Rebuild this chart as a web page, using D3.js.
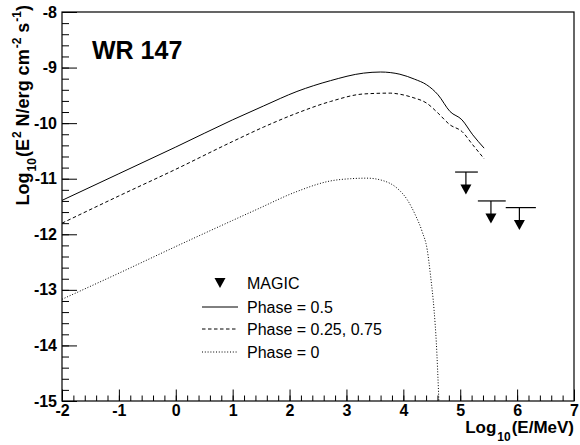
<!DOCTYPE html>
<html>
<head>
<meta charset="utf-8">
<script src="https://cdn.jsdelivr.net/npm/d3@7"></script>
<style>
  html, body { margin: 0; padding: 0; background: #fff; }
  svg { display: block; font-family: "Liberation Sans", Arial, Helvetica, sans-serif; }
</style>
</head>
<body>
<div id="chart"></div>
<script>
// ---- Data ----
const phase05X = [-2, -1, 0, 1, 1.545, 2.13, 2.72, 3.3, 3.6, 3.77, 3.94, 4.2, 4.41, 4.61, 4.82, 5.03, 5.22, 5.42];
const phase05Y = [-11.39, -10.91, -10.43, -9.94, -9.69, -9.43, -9.235, -9.10, -9.08, -9.09, -9.12, -9.21, -9.31, -9.49, -9.79, -9.94, -10.21, -10.45];

const phase025X = [-2, -1, 0, 1, 1.545, 2.13, 2.72, 3.3, 3.77, 3.94, 4.17, 4.41, 4.61, 4.82, 5.03, 5.22, 5.42];
const phase025Y = [-11.80, -11.31, -10.83, -10.33, -10.07, -9.82, -9.61, -9.475, -9.46, -9.48, -9.54, -9.64, -9.82, -10.03, -10.15, -10.39, -10.64];

const phase0X = [-2, -1, 0, 1, 1.43, 2.13, 2.72, 3.07, 3.36, 3.66, 3.89, 4.07, 4.21, 4.33, 4.42, 4.48, 4.54, 4.58, 4.625];
const phase0Y = [-13.17, -12.70, -12.22, -11.75, -11.55, -11.23, -11.04, -11.00, -10.99, -11.04, -11.17, -11.38, -11.65, -11.95, -12.28, -12.76, -13.36, -13.95, -15.0];

const magicX  = [5.10, 5.54, 6.04];
const magicLo = [4.91, 5.31, 5.80];
const magicHi = [5.31, 5.80, 6.33];
const magicY  = [-10.88, -11.40, -11.52];

const xTicks = [-2, -1, 0, 1, 2, 3, 4, 5, 6, 7];
const yTicks = [-15, -14, -13, -12, -11, -10, -9, -8];

const legendLabels = ["MAGIC", "Phase = 0.5", "Phase = 0.25, 0.75", "Phase = 0"];

// ---- Layout ----
const W = 580, H = 445;
const L = 62, R = 574, T = 12, B = 401;

const svg = d3.select("#chart").append("svg").attr("width", W).attr("height", H);

const x = d3.scaleLinear().domain([-2, 7]).range([L, R]);
const y = d3.scaleLinear().domain([-15, -8]).range([B, T]);

const font = '"Liberation Sans", Arial, Helvetica, sans-serif';
const fmt = d => String(d);

// Minor ticks
const xMinor = d3.range(-2, 7.0001, 0.2).map(v => +v.toFixed(2));
const yMinor = d3.range(-15, -7.9999, 0.2).map(v => +v.toFixed(2));

svg.append("g").attr("transform", `translate(0,${B})`)
  .call(d3.axisBottom(x).tickValues(xMinor).tickSize(-5.5).tickSizeOuter(0).tickFormat(""))
  .call(g => g.select(".domain").remove());
svg.append("g").attr("transform", `translate(${L},0)`)
  .call(d3.axisLeft(y).tickValues(yMinor).tickSize(-7).tickSizeOuter(0).tickFormat(""))
  .call(g => g.select(".domain").remove());

// Major ticks
const xAxis = svg.append("g").attr("transform", `translate(0,${B})`)
  .call(d3.axisBottom(x).tickValues(xTicks).tickSize(-11.5).tickSizeOuter(0).tickPadding(4).tickFormat(fmt));
xAxis.select(".domain").remove();
xAxis.selectAll("text").attr("font-size", 16).attr("font-weight", "bold").attr("font-family", font).attr("fill", "#000");

const yAxis = svg.append("g").attr("transform", `translate(${L},0)`)
  .call(d3.axisLeft(y).tickValues(yTicks).tickSize(-15).tickSizeOuter(0).tickPadding(5).tickFormat(fmt));
yAxis.select(".domain").remove();
yAxis.selectAll("text").attr("font-size", 16).attr("font-weight", "bold").attr("font-family", font).attr("fill", "#000");

svg.selectAll(".tick line").attr("stroke", "#000").attr("stroke-width", 1);

// Frame
svg.append("rect").attr("x", L).attr("y", T).attr("width", R - L).attr("height", B - T)
  .attr("fill", "none").attr("stroke", "#000").attr("stroke-width", 1.2);

// Curves
svg.append("clipPath").attr("id", "clipFrame")
  .append("rect").attr("x", L).attr("y", T).attr("width", R - L).attr("height", B - T);

const line = d3.line().x(d => x(d[0])).y(d => y(d[1])).curve(d3.curveMonotoneX);
const curves = [
  { xs: phase05X, ys: phase05Y, dash: null },
  { xs: phase025X, ys: phase025Y, dash: "3.5,2.5" },
  { xs: phase0X, ys: phase0Y, dash: "1,1.8" }
];
curves.forEach(c => {
  svg.append("path")
    .datum(c.xs.map((v, i) => [v, c.ys[i]]))
    .attr("d", line)
    .attr("fill", "none")
    .attr("stroke", "#000")
    .attr("stroke-width", 1)
    .attr("stroke-dasharray", c.dash)
    .attr("clip-path", "url(#clipFrame)");
});

// MAGIC upper limits
const tri = (cx, ty, w, h) => `M${cx - w / 2},${ty}L${cx + w / 2},${ty}L${cx},${ty + h}Z`;
magicX.forEach((mx, i) => {
  const py = y(magicY[i]);
  const px = x(mx);
  svg.append("line").attr("x1", x(magicLo[i])).attr("x2", x(magicHi[i]))
    .attr("y1", py).attr("y2", py).attr("stroke", "#000").attr("stroke-width", 1.2);
  svg.append("line").attr("x1", px).attr("x2", px).attr("y1", py).attr("y2", py + 13)
    .attr("stroke", "#000").attr("stroke-width", 1.2);
  svg.append("path").attr("d", tri(px, py + 12.5, 11, 10)).attr("fill", "#000");
});

// Legend
const lg = svg.append("g").attr("font-family", font).attr("font-size", 16).attr("fill", "#000");
const legendRows = [283, 307, 329, 352];
const legendX0 = 202, legendX1 = 238, legendText = 247;
lg.append("path").attr("d", tri(220, legendRows[0] - 5, 11, 10)).attr("fill", "#000");
[null, "3.5,2.5", "1,1.8"].forEach((dash, i) => {
  lg.append("line").attr("x1", legendX0).attr("x2", legendX1)
    .attr("y1", legendRows[i + 1]).attr("y2", legendRows[i + 1])
    .attr("stroke", "#000").attr("stroke-width", 1).attr("stroke-dasharray", dash);
});
legendLabels.forEach((t, i) => {
  lg.append("text").attr("x", legendText).attr("y", legendRows[i]).attr("dy", "0.36em").text(t);
});

// Title
svg.append("text").attr("x", 92).attr("y", 59).attr("font-family", font)
  .attr("font-size", 25).attr("font-weight", "bold").text("WR 147");

// X axis title
const xt = svg.append("text").attr("x", R).attr("y", 433).attr("text-anchor", "end")
  .attr("font-family", font).attr("font-size", 17).attr("font-weight", "bold");
xt.append("tspan").text("Log");
xt.append("tspan").attr("font-size", 12).attr("dy", 8).attr("dx", 1).text("10");
xt.append("tspan").attr("dy", -8).attr("dx", 1).text("(E/MeV)");

// Y axis title
const yt = svg.append("text").attr("transform", `translate(29,5) rotate(-90)`)
  .attr("text-anchor", "end").attr("font-family", font).attr("font-size", 18).attr("font-weight", "bold");
yt.append("tspan").text("Log");
yt.append("tspan").attr("font-size", 12).attr("dy", 7).attr("dx", 1).text("10");
yt.append("tspan").attr("dy", -7).attr("dx", 1).text("(E");
yt.append("tspan").attr("font-size", 12).attr("dy", -8).attr("dx", 1).text("2");
yt.append("tspan").attr("dy", 8).text(" N/erg cm");
yt.append("tspan").attr("font-size", 12).attr("dy", -8).attr("dx", 1).text("-2");
yt.append("tspan").attr("dy", 8).text(" s");
yt.append("tspan").attr("font-size", 12).attr("dy", -8).attr("dx", 1).text("-1");
yt.append("tspan").attr("dy", 8).text(")");
</script>
</body>
</html>
